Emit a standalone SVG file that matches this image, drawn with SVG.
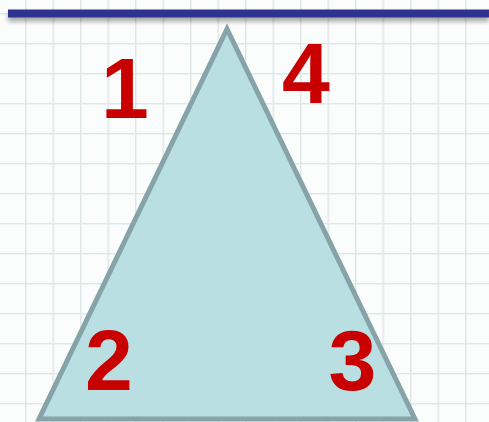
<svg xmlns="http://www.w3.org/2000/svg" width="489" height="422" viewBox="0 0 489 422">
<defs>
<pattern id="grid" x="25" y="13" width="27.5" height="30" patternUnits="userSpaceOnUse">
<line x1="0" y1="0" x2="0" y2="30" stroke="#dfe8e6" stroke-width="3"/>
<line x1="0" y1="0" x2="27.5" y2="0" stroke="#dfe8e6" stroke-width="3"/>
</pattern>
<filter id="sh" x="-5%" y="-100%" width="110%" height="400%">
<feGaussianBlur in="SourceAlpha" stdDeviation="2.5"/>
<feOffset dy="4"/>
<feComponentTransfer><feFuncA type="linear" slope="0.35"/></feComponentTransfer>
<feMerge><feMergeNode/><feMergeNode in="SourceGraphic"/></feMerge>
</filter>
<filter id="blur"><feGaussianBlur stdDeviation="0.6"/></filter>
</defs>
<style>
.num{font-family:"Liberation Sans",Arial,sans-serif;font-weight:bold;font-size:86px;fill:#c80000;text-anchor:middle}
</style>
<rect width="489" height="422" fill="#fbfdfd"/>
<rect width="489" height="422" fill="url(#grid)" filter="url(#blur)"/>
<rect id="topline" x="8" y="9.5" width="481" height="8" fill="#2e3190" filter="url(#sh)"/>
<g id="triangle">
<polygon points="227,29 39,419 415,419" fill="#b9dfe3" stroke="#86a4a8" stroke-width="5" stroke-linejoin="miter"/>
</g>
<g id="labels">
<text class="num" x="125" y="118">1</text>
<text class="num" x="306" y="103">4</text>
<text class="num" x="109" y="390">2</text>
<text class="num" x="352.5" y="390">3</text>
</g>
</svg>
